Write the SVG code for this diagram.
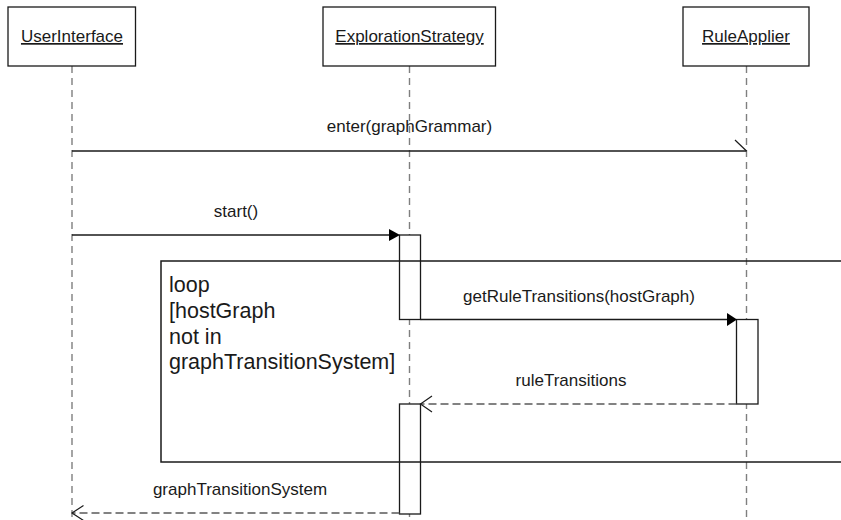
<svg xmlns="http://www.w3.org/2000/svg" width="841" height="520" viewBox="0 0 841 520">
<style>
  .box { fill: #ffffff; stroke: #1a1a1a; stroke-width: 1.3; }
  .bar { fill: #ffffff; stroke: #1a1a1a; stroke-width: 1.3; }
  .life { stroke: #7f7f7f; stroke-width: 1.4; stroke-dasharray: 7 5; fill: none; }
  .msg { stroke: #1a1a1a; stroke-width: 1.3; fill: none; }
  .ret { stroke: #595959; stroke-width: 1.3; stroke-dasharray: 8 4; fill: none; }
  .head { stroke: #1a1a1a; stroke-width: 1.2; fill: none; }
  .fillhead { fill: #000000; stroke: none; }
  .frame { stroke: #1a1a1a; stroke-width: 1.5; fill: none; }
  text { font-family: "Liberation Sans", Arial, sans-serif; fill: #1a1a1a; }
  .hdr { font-size: 17px; text-anchor: middle; text-decoration: underline; }
  .lbl { font-size: 17px; text-anchor: middle; }
  .loop { font-size: 21.5px; }
</style>
<rect width="841" height="520" fill="#ffffff"/>

<g id="lifelines">
  <line class="life" x1="72" y1="66" x2="72" y2="518"/>
  <line class="life" x1="409.5" y1="66" x2="409.5" y2="518"/>
  <line class="life" x1="746.5" y1="66" x2="746.5" y2="518"/>
</g>

<g id="node-userinterface">
  <rect class="box" x="8" y="7" width="127.5" height="59"/>
  <text class="hdr" x="72" y="42">UserInterface</text>
</g>
<g id="node-explorationstrategy">
  <rect class="box" x="323" y="7" width="172.5" height="59"/>
  <text class="hdr" x="409.5" y="42">ExplorationStrategy</text>
</g>
<g id="node-ruleapplier">
  <rect class="box" x="683" y="7" width="126" height="59"/>
  <text class="hdr" x="746" y="42">RuleApplier</text>
</g>

<g id="activations">
  <rect class="bar" x="399.5" y="235" width="21" height="84.5"/>
  <rect class="bar" x="736.5" y="319.5" width="21.5" height="84.5"/>
  <rect class="bar" x="399.5" y="404" width="21" height="110"/>
</g>

<g id="loop-frame">
  <rect class="frame" x="161" y="261" width="700" height="201"/>
  <text class="loop" x="169" y="292">loop</text>
  <text class="loop" x="169" y="318">[hostGraph</text>
  <text class="loop" x="169" y="343.5">not in</text>
  <text class="loop" x="169" y="369">graphTransitionSystem]</text>
</g>

<g id="connectors">
  <!-- enter(graphGrammar) async -->
  <line class="msg" x1="72" y1="151" x2="746.5" y2="151"/>
  <line class="head" x1="746.5" y1="151" x2="735" y2="140"/>
  <text class="lbl" x="409.5" y="132">enter(graphGrammar)</text>

  <!-- start() -->
  <line class="msg" x1="72" y1="235" x2="392" y2="235"/>
  <polygon class="fillhead" points="389,229 400,235 389,241"/>
  <text class="lbl" x="236" y="217">start()</text>

  <!-- getRuleTransitions(hostGraph) -->
  <line class="msg" x1="420.5" y1="319.5" x2="730" y2="319.5"/>
  <polygon class="fillhead" points="727,313 737,319.5 727,326"/>
  <text class="lbl" x="579" y="302">getRuleTransitions(hostGraph)</text>

  <!-- ruleTransitions return -->
  <line class="ret" x1="736.5" y1="404" x2="421" y2="404"/>
  <polyline class="head" points="432,396 420.5,404 432,412"/>
  <text class="lbl" x="571" y="386">ruleTransitions</text>

  <!-- graphTransitionSystem return -->
  <line class="ret" x1="399.5" y1="513" x2="73" y2="513"/>
  <polyline class="head" points="83.5,505.5 72,513 83.5,520.5"/>
  <text class="lbl" x="240" y="495">graphTransitionSystem</text>
</g>
</svg>
